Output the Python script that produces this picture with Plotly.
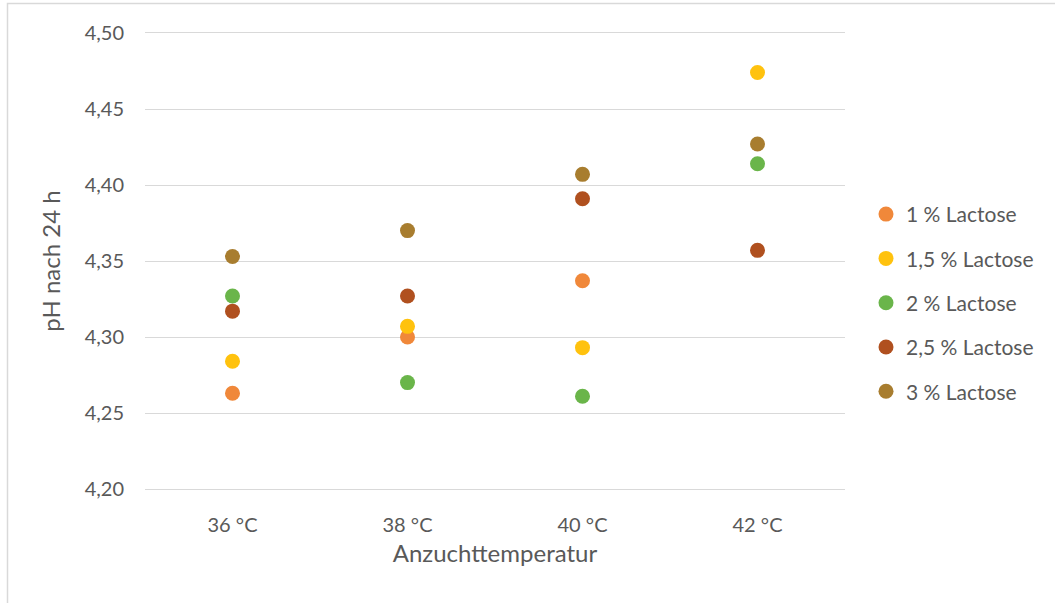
import plotly.graph_objects as go

categories = ["36 °C", "38 °C", "40 °C", "42 °C"]
series_names = ["1 % Lactose", "1,5 % Lactose", "2 % Lactose", "2,5 % Lactose", "3 % Lactose"]
lactose_1 = [4.263, 4.300, 4.337, None]
lactose_1_5 = [4.284, 4.307, 4.293, 4.474]
lactose_2 = [4.327, 4.270, 4.261, 4.414]
lactose_2_5 = [4.317, 4.327, 4.391, 4.357]
lactose_3 = [4.353, 4.370, 4.407, 4.427]
colors = ["#F0883A", "#FFC20E", "#6AB54A", "#B0501F", "#A87D2F"]
y_ticks = [4.20, 4.25, 4.30, 4.35, 4.40, 4.45, 4.50]
y_tick_labels = ["4,20", "4,25", "4,30", "4,35", "4,40", "4,45", "4,50"]

series = [lactose_1, lactose_1_5, lactose_2, lactose_2_5, lactose_3]

fig = go.Figure()
for i, (name, vals, col) in enumerate(zip(series_names, series, colors)):
    fig.add_trace(go.Scatter(
        x=categories, y=vals, mode="markers", name=name,
        legendgroup=f"g{i}",
        marker=dict(size=15, color=col, line=dict(width=0)),
    ))

font_family = "Lato, 'Open Sans', sans-serif"
fig.update_layout(
    width=1055, height=603,
    margin=dict(l=145, r=210, t=33, b=114),
    paper_bgcolor="white", plot_bgcolor="white",
    font=dict(family=font_family, color="#595959", size=20),
    legend=dict(
        x=1.03, xanchor="left", y=0.647, yanchor="top",
        font=dict(size=21, color="#595959"),
        traceorder="grouped", tracegroupgap=14,
        itemwidth=30,
    ),
    xaxis=dict(
        type="category", range=[-0.5, 3.5],
        showgrid=False, zeroline=False,
        showline=True, mirror=True, linecolor="#D9D9D9", linewidth=1.3,
        tickfont=dict(size=20, color="#595959"),
        ticks="outside", ticklen=18, tickcolor="rgba(0,0,0,0)",
        title=dict(text="Anzuchttemperatur", font=dict(size=24, color="#595959"), standoff=10),
    ),
    yaxis=dict(
        range=[4.20, 4.50], tickvals=y_ticks, ticktext=y_tick_labels,
        showgrid=True, gridcolor="#D9D9D9", gridwidth=1.3,
        zeroline=False, showline=False,
        tickfont=dict(size=20, color="#595959"),
        ticks="outside", ticklen=16, tickcolor="rgba(0,0,0,0)",
        title=dict(text="pH nach 24 h", font=dict(size=24, color="#595959"), standoff=17),
    ),
    shapes=[dict(
        type="rect", xref="paper", yref="paper",
        x0=(7.5 - 145) / 700, x1=1.35, y0=-0.35, y1=1 + (33 - 3.5) / 456,
        line=dict(color="#D9D9D9", width=1.5), fillcolor="rgba(0,0,0,0)", layer="below",
    )],
)

fig.write_html(
    "out.html",
    config={"displayModeBar": False},
    post_script="document.body.style.margin='0';document.body.style.overflow='hidden';",
)
